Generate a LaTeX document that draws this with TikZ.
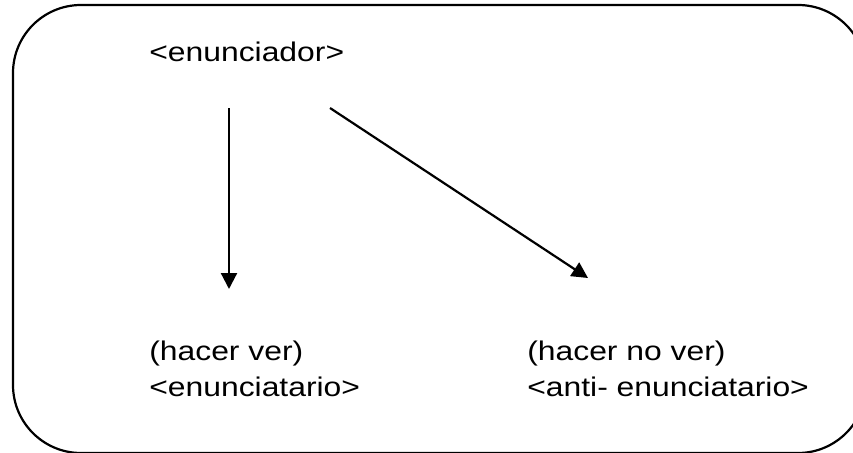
\documentclass[tikz,border=0pt]{standalone}
\usepackage{fontspec}
\setmainfont{Liberation Sans}
\usepackage{tikz}
\usetikzlibrary{arrows.meta}

\begin{document}
\begin{tikzpicture}
            [x=1pt,y=-1pt,line width=2.2pt,
             every node/.style={anchor=base west,inner sep=0pt,align=left,
               font=\fontsize{27}{36}\selectfont,xscale=1.18},
             flecha/.style={-{Triangle[width=16pt,length=16pt]}}]
            \useasboundingbox (0,0) rectangle (853,452);
            \clip (0,0) rectangle (853,452);
            % frame
            \draw[rounded corners=68pt] (13,5) rectangle (866,453);
            % texts (base = last line)
            \node (enunciador) at (148,62) {<enunciador>};
            \node (ver) at (148,396) {(hacer ver)\\<enunciatario>};
            \node (nover) at (526,396) {(hacer no ver)\\<anti- enunciatario>};
            % arrow ends
            \coordinate (a1) at (229,108);
            \coordinate (b1) at (229,289);
            \coordinate (a2) at (330,108);
            \coordinate (b2) at (588,278);
            \draw[flecha] (a1) -- (b1);
            \draw[flecha] (a2) -- (b2);
        \end{tikzpicture}
\end{document}
